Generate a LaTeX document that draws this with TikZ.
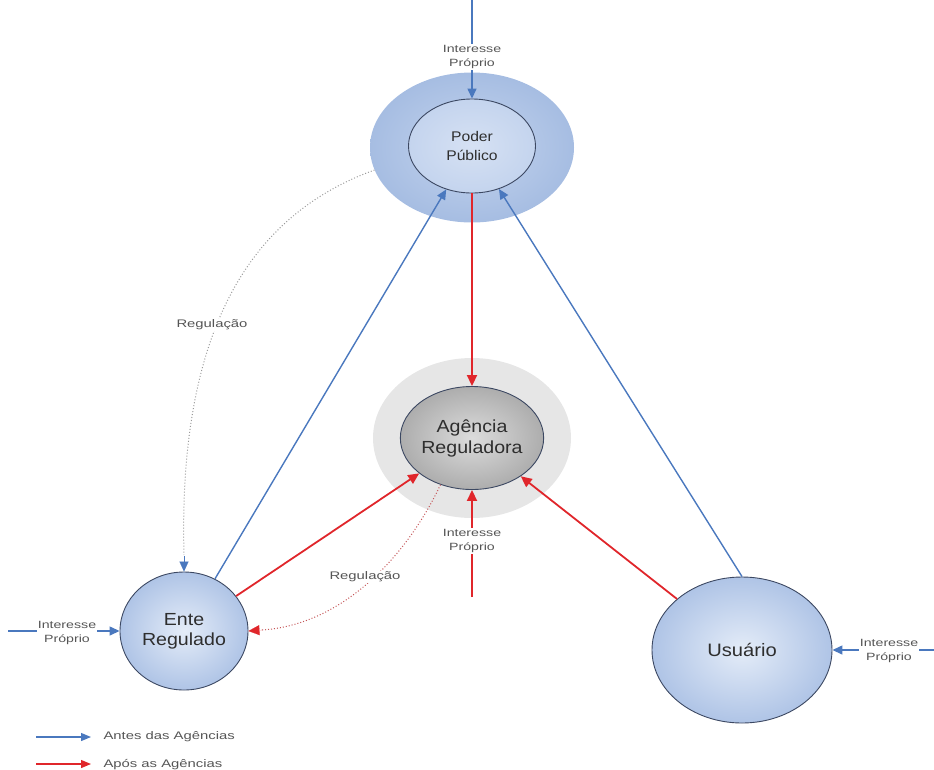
\documentclass[tikz,border=0pt]{standalone}
\usepackage{fontspec}
\setmainfont{Liberation Sans}
\newfontfamily\widefont[FakeStretch=1.35]{Liberation Sans}
\newfontfamily\semiwidefont[FakeStretch=1.12]{Liberation Sans}
\usetikzlibrary{shapes.geometric,arrows.meta}

\definecolor{bluearr}{HTML}{4A78BE}
\definecolor{redarr}{HTML}{E0262B}
\definecolor{edgecol}{HTML}{3C4862}
\definecolor{txt}{HTML}{2E2E2E}
\definecolor{smalltxt}{HTML}{555555}
\definecolor{bluein}{HTML}{E4ECF8}
\definecolor{blueout}{HTML}{AFC4E6}
\definecolor{halo}{HTML}{A6BDE2}
\definecolor{haloin}{HTML}{C4D4EE}
\definecolor{greyin}{HTML}{DCDCDC}
\definecolor{greyout}{HTML}{ADADAD}
\definecolor{greyhalo}{HTML}{E6E6E6}
\definecolor{dotgrey}{HTML}{9A9A9A}

\begin{document}
\begin{tikzpicture}[x=1pt,y=-1pt,
  entity/.style={ellipse, draw=edgecol, line width=0.9pt, inner sep=0pt,
    align=center, text=txt, shading=radial, inner color=bluein, outer color=blueout},
  halo/.style={ellipse, draw=none, inner sep=0pt},
  smalllabel/.style={font=\widefont\fontsize{10.5}{14.5}\selectfont, text=smalltxt, align=center,
    fill=white, inner sep=1pt},
  curvelabel/.style={font=\widefont\fontsize{11}{13}\selectfont, text=smalltxt, fill=white, inner sep=1pt},
  legendlabel/.style={font=\widefont\fontsize{11}{13}\selectfont, text=smalltxt, anchor=west},
  bluearrow/.style={draw=bluearr, line width=1.4pt,
    -{Triangle[length=10pt,width=9pt]}},
  redarrow/.style={draw=redarr, line width=1.8pt,
    -{Triangle[length=11pt,width=10pt]}},
]
\useasboundingbox (0,0) rectangle (934,769);
\clip (0,0) rectangle (934,769);

% halos behind the two central actors
\node[halo, minimum width=204pt, minimum height=150pt,
  shading=radial, inner color=haloin, outer color=halo] (ppo) at (472,147.5) {};
\node[halo, minimum width=198pt, minimum height=160pt, fill=greyhalo] (ago) at (472,438) {};

% actors
\node[entity, minimum width=127pt, minimum height=94pt,
  font=\semiwidefont\fontsize{14}{19}\selectfont, inner color=haloin!70!white, outer color=haloin] (pp) at (472,146) {Poder\\Público};
\node[entity, minimum width=129pt, minimum height=103pt,
  inner color=greyin, outer color=greyout,
  font=\semiwidefont\fontsize{17.5}{21}\selectfont] (ag) at (472,438) {Agência\\Reguladora};
\node[entity, minimum width=128pt, minimum height=118pt,
  font=\semiwidefont\fontsize{17.5}{20}\selectfont] (ente) at (184,631) {Ente\\Regulado};
\node[entity, minimum width=180pt, minimum height=146pt,
  font=\semiwidefont\fontsize{18}{20}\selectfont] (us) at (742,650) {Usuário};

% free ends of the "Interesse Próprio" inputs
\coordinate (topin) at (472,0);
\coordinate (botin) at (472,597);
\coordinate (leftin) at (8,631);
\coordinate (rightin) at (934,650);

% regulation curves (dotted)
\draw[dotgrey, dotted, line width=1pt] (ppo.193)
  .. controls (250,215) and (178,330) .. (184,555);
\draw[bluearr, -{Triangle[length=10pt,width=9pt]}, line width=0.1pt]
  (184,556) -- (ente.north);
\draw[redarr!60!dotgrey, dotted, line width=1pt] (ag.236)
  .. controls (405,560) and (340,625) .. (262,630);
\draw[redarr, -{Triangle[length=11pt,width=10pt]}, line width=0.1pt]
  (262,630) -- (ente.east);

% before the agencies
\draw[bluearrow] (topin) -- (pp.north);
\draw[bluearrow] (ente) -- (pp);
\draw[bluearrow] (us.north) -- (pp);
\draw[bluearrow] (leftin) -- (ente.west);
\draw[bluearrow] (rightin) -- (us.east);

% after the agencies
\draw[redarrow] (pp.south) -- (ag.north);
\draw[redarrow] (ente) -- (ag);
\draw[redarrow] (us) -- (ag);
\draw[redarrow] (botin) -- (ag.south);

% labels
\node[smalllabel] (lt) at (472,57) {Interesse\\Próprio};
\node[smalllabel] (lb) at (472,541) {Interesse\\Próprio};
\node[smalllabel] (ll) at (67,633) {Interesse\\Próprio};
\node[smalllabel] (lr) at (889,651) {Interesse\\Próprio};
\node[curvelabel] (reg1) at (212,325) {Regulação};
\node[curvelabel] (reg2) at (365,577) {Regulação};

% legend
\coordinate (lga) at (36,737);
\coordinate (lgb) at (91,737);
\coordinate (lgc) at (36,764);
\coordinate (lgd) at (91,764);
\draw[bluearr, line width=1.2pt, -{Triangle[length=10pt,width=8pt]}] (lga) -- (lgb);
\draw[redarr, line width=1.2pt, -{Triangle[length=10pt,width=8pt]}] (lgc) -- (lgd);
\node[legendlabel] (lg1) at (100,737) {Antes das Agências};
\node[legendlabel] (lg2) at (100,765) {Após as Agências};
\end{tikzpicture}
\end{document}
